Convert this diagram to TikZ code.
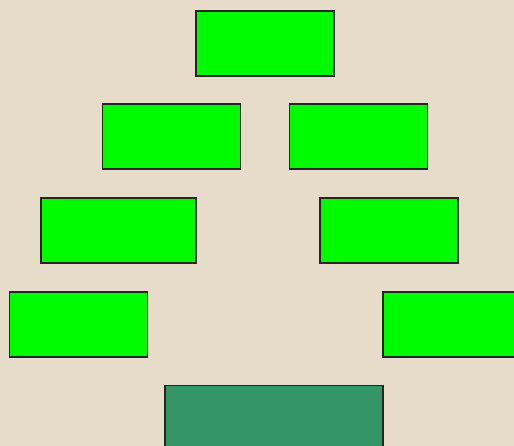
\documentclass[tikz,border=0pt]{standalone}
\usetikzlibrary{positioning}
\definecolor{parchment}{RGB}{231,220,201}
\definecolor{leafgreen}{RGB}{0,250,0}
\definecolor{trunkgreen}{RGB}{52,150,102}
\tikzset{
    leaf/.style={draw=black!85, line width=1.6pt, fill=leafgreen, inner sep=0pt,
        minimum width=138pt, minimum height=65pt},
    trunk/.style={leaf, fill=trunkgreen, minimum width=218pt}
}
\begin{document}
\begin{tikzpicture}[x=1pt, y=-1pt]
    \fill[parchment] (0,0) rectangle (514,446);
    \useasboundingbox (0,0) rectangle (514,446);

    % tree top
    \node[leaf] (top) at (265,43.5) {};
    \node[leaf] (l2) at (171.5,136.5) {};
    \node[leaf] (r2) at (358.5,136.5) {};
    \node[leaf, minimum width=155pt] (l3) at (118.5,230.5) {};
    \node[leaf] (r3) at (389,230.5) {};
    \node[leaf] (l4) at (78.5,324.5) {};
    \node[leaf] (r4) at (452,324.5) {};

    % trunk
    \node[trunk] (base) at (274,418) {};
\end{tikzpicture}
\end{document}
